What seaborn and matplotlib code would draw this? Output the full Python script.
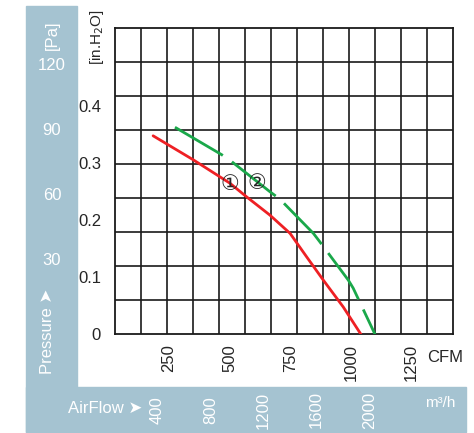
import numpy as np
import pandas as pd
import seaborn as sns
import matplotlib.pyplot as plt
import matplotlib.transforms as mtransforms
from matplotlib.patches import Rectangle

# fan curves (CFM vs inch H2O)
cfm_1 = [185, 350, 501, 570, 666, 749, 817, 886, 968, 1041]
prs_1 = [0.348, 0.306, 0.265, 0.241, 0.209, 0.177, 0.136, 0.095, 0.048, 0.0]
cfm_2 = [275, 467, 508, 666, 707, 845, 872, 989, 1009, 1099]
prs_2 = [0.363, 0.315, 0.303, 0.250, 0.237, 0.177, 0.162, 0.095, 0.081, 0.0]

cfm_ticks = [250, 500, 750, 1000, 1250]
inh2o_ticks = [0.1, 0.2, 0.3, 0.4]
pa_labels = [120, 90, 60, 30]
m3h_labels = [400, 800, 1200, 1600, 2000]

df = pd.concat([
    pd.DataFrame({'cfm': cfm_1, 'p': prs_1, 'fan': '1'}),
    pd.DataFrame({'cfm': cfm_2, 'p': prs_2, 'fan': '2'}),
])

sns.set_style('white')
plt.rcParams['font.family'] = ['Liberation Sans', 'DejaVu Sans']

W, H = 474, 433
fig = plt.figure(figsize=(W / 100, H / 100), dpi=100)
blue = '#a5c3d1'
# L-shaped light blue band behind everything
fig.patches.append(Rectangle((26 / W, 1 / H), 51 / W, 426 / H, transform=fig.transFigure,
                             color=blue, zorder=-5))
fig.patches.append(Rectangle((26 / W, 1 / H), 440 / W, 45 / H, transform=fig.transFigure,
                             color=blue, zorder=-5))

ax = fig.add_axes([115 / W, 1 - 334.3 / H, (452.7 - 115) / W, (334.3 - 28) / H])
ax.patch.set_alpha(0)
xmin, xmax = 28, 1419
ymin, ymax = 0, 0.537
ax.set_xlim(xmin, xmax)
ax.set_ylim(ymin, ymax)

# grid (not aligned with ticks)
for gx in np.linspace(xmin, xmax, 14)[1:-1]:
    ax.axvline(gx, color='#1a1a1a', lw=1.2, zorder=1)
for gy in np.linspace(ymin, ymax, 10)[1:-1]:
    ax.axhline(gy, color='#1a1a1a', lw=1.2, zorder=1)
for s in ax.spines.values():
    s.set_color('#1a1a1a')
    s.set_linewidth(1.3)

sns.lineplot(data=df, x='cfm', y='p', hue='fan', style='fan',
             palette={'1': '#ee2024', '2': '#1aa84a'},
             dashes={'1': '', '2': (20, 4)}, linewidth=2,
             sort=False, legend=False, ax=ax, zorder=3)

ax.text(501, 0.263, '①', fontsize=15, ha='center', va='center', family=['DejaVu Sans'], zorder=4)
ax.text(611, 0.266, '②', fontsize=15, ha='center', va='center', family=['DejaVu Sans'], zorder=4)

ax.set_xticks(cfm_ticks)
ax.set_xticklabels([str(v) for v in cfm_ticks], rotation=90, fontsize=12)
ax.set_yticks([0] + inh2o_ticks)
ax.set_yticklabels(['0'] + [f'{v:.1f}' for v in inh2o_ticks], fontsize=12)
ax.tick_params(axis='both', direction='out', length=3, width=1.5, color='#1a1a1a')
ax.tick_params(axis='x', pad=4)
ax.tick_params(axis='y', pad=7)
ax.set_xlabel('')
ax.set_ylabel('')

fig.text(445 / W, 1 - 358 / H, 'CFM', fontsize=12, ha='center', va='center')
fig.text(97 / W, 1 - 37 / H, '[in.H$_2$O]', fontsize=11, rotation=90, ha='center', va='center')

# left pressure column (Pa), white text
tr = mtransforms.blended_transform_factory(fig.transFigure, ax.transData)
for pa in pa_labels:
    ax.text(52 / W, 0.0146 + 0.0038 * pa, str(pa), transform=tr, color='white',
            fontsize=12, ha='center', va='center', clip_on=False)
fig.text(52 / W, 1 - 35 / H, '[Pa]', color='white', fontsize=12, rotation=90,
         ha='center', va='center')
fig.text(47 / W, 1 - 331 / H, 'Pressure ➤', color='white', fontsize=12, rotation=90,
         ha='center', va='center')

# bottom airflow band (m3/h), white text
tr2 = mtransforms.blended_transform_factory(ax.transData, fig.transFigure)
for m in m3h_labels:
    ax.text(m * 0.545 - 15, 1 - 410 / H, str(m), transform=tr2, color='white',
            fontsize=12, rotation=90, ha='center', va='center', clip_on=False)
fig.text(105 / W, 1 - 408 / H, 'AirFlow ➤', color='white', fontsize=12,
         ha='center', va='center')
fig.text(440 / W, 1 - 403 / H, 'm³/h', color='white', fontsize=11, ha='center', va='center')

fig.savefig('out.png', dpi=100)
